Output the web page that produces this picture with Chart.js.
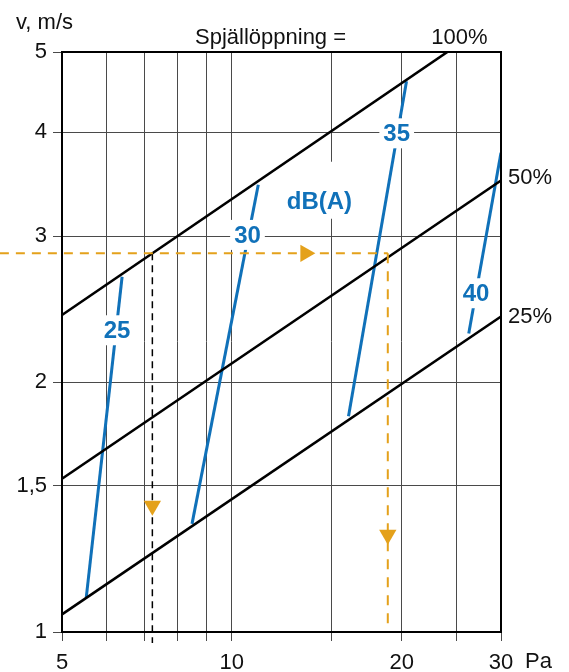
<!DOCTYPE html>
<html>
<head>
<meta charset="utf-8">
<script src="https://cdn.jsdelivr.net/npm/chart.js@4"></script>
<style>
  html, body { margin: 0; padding: 0; background: #fff; }
  #wrap { width: 569px; height: 672px; position: relative; }
</style>
</head>
<body>
<div id="wrap"><canvas id="chart"></canvas></div>
<script>
// Damper diagram: velocity vs pressure drop, log-log
const xTicks = [5, 6, 7, 8, 9, 10, 15, 20, 25, 30];
const xLabelled = [5, 10, 20, 30];
const yTicks = [1, 1.5, 2, 3, 4, 5];
const yLabels = ['1', '1,5', '2', '3', '4', '5'];

// damper opening lines (Pa, m/s)
const openings = ['100%', '50%', '25%'];
const openPa = [[5, 24.1], [5, 30], [5, 30]];
const openV = [[2.41, 5], [1.53, 3.50], [1.05, 2.40]];

// sound level lines dB(A)
const dbLevels = ['25', '30', '35', '40'];
const dbPa = [[5.52, 6.39], [8.5, 11.14], [16.1, 20.4], [26.3, 30]];
const dbV = [[1.10, 2.68], [1.35, 3.46], [1.82, 4.61], [2.29, 3.78]];
const dbLabelPa = [6.26, 10.66, 19.6, 27.1];
const dbLabelV = [2.31, 3.01, 3.99, 2.56];
const unitLabelPa = 14.3;
const unitLabelV = 3.30;

// reading example
const readV = 2.86;
const readPaStart = 3.88;
const readPaEnd = 18.9;
const readPa100 = 7.23;
const readVBottom = 0.97;
const arrowRight = [13.5, 2.86];
const arrowsDown = [[18.9, 1.31], [7.23, 1.42]];

const colors = { black: '#000', blue: '#1071b9', orange: '#e4a11b', grid: '#4a4a4a' };
const font = "'Liberation Sans', Arial, Helvetica, sans-serif";

Chart.defaults.font.family = font;
Chart.defaults.font.size = 22;
Chart.defaults.color = '#111';

const pts = (xs, ys) => xs.map((x, i) => ({ x: x, y: ys[i] }));

const datasets = [];
openings.forEach((name, i) => {
  datasets.push({
    label: name, data: pts(openPa[i], openV[i]),
    borderColor: colors.black, borderWidth: 2.6, pointRadius: 0, order: 2
  });
});
dbLevels.forEach((name, i) => {
  datasets.push({
    label: name + ' dB(A)', data: pts(dbPa[i], dbV[i]),
    borderColor: colors.blue, borderWidth: 3, pointRadius: 0, order: 3
  });
});
datasets.push({
  label: 'read h', data: pts([readPaStart, readPaEnd], [readV, readV]),
  borderColor: colors.orange, borderWidth: 2, borderDash: [9, 7], pointRadius: 0, clip: false, order: 1
});
datasets.push({
  label: 'read v', data: pts([readPaEnd, readPaEnd], [readV, 1]),
  borderColor: colors.orange, borderWidth: 2, borderDash: [10, 8], pointRadius: 0, clip: false, order: 1
});
datasets.push({
  label: 'read 100', data: pts([readPa100, readPa100], [readV, readVBottom]),
  borderColor: colors.black, borderWidth: 1.5, borderDash: [7, 5], pointRadius: 0, clip: false, order: 1
});
datasets.push({
  label: 'arrow r', data: [{ x: arrowRight[0], y: arrowRight[1] }], showLine: false,
  pointStyle: 'triangle', rotation: 90, pointRadius: 10, borderWidth: 0,
  backgroundColor: colors.orange, order: 0
});
datasets.push({
  label: 'arrow d', data: arrowsDown.map(p => ({ x: p[0], y: p[1] })), showLine: false,
  pointStyle: 'triangle', rotation: 180, pointRadius: 10, borderWidth: 0,
  backgroundColor: colors.orange, order: 0
});

const boldFont = 'bold 24px ' + font;

const textPlugin = {
  id: 'texts',
  beforeDatasetsDraw(chart) {
    // white patch behind dB(A) that only hides the grid
    const ctx = chart.ctx;
    const px = chart.scales.x.getPixelForValue(unitLabelPa);
    const py = chart.scales.y.getPixelForValue(unitLabelV);
    ctx.save();
    ctx.font = boldFont;
    const w = ctx.measureText('dB(A)').width;
    ctx.fillStyle = '#fff';
    ctx.fillRect(px - w / 2 - 6, py - 40, w + 12, 57);
    ctx.restore();
  },
  afterDraw(chart) {
    const ctx = chart.ctx, a = chart.chartArea;
    const xs = chart.scales.x, ys = chart.scales.y;
    ctx.save();
    // frame
    ctx.strokeStyle = colors.black;
    ctx.lineWidth = 2;
    ctx.strokeRect(a.left, a.top, a.right - a.left, a.bottom - a.top);

    ctx.textBaseline = 'middle';
    ctx.fillStyle = '#111';
    ctx.font = '22px ' + font;
    ctx.textAlign = 'left';
    ctx.fillText('v, m/s', 16, 23);
    ctx.fillText('Spjällöppning =', 195, 38);
    ctx.fillText('Pa', 525, 662);
    // opening labels at line ends
    ctx.textAlign = 'center';
    ctx.fillText(openings[0], xs.getPixelForValue(openPa[0][1]) + 12, 38);
    ctx.textAlign = 'left';
    ctx.fillText(openings[1], a.right + 7, ys.getPixelForValue(openV[1][1]) - 3);
    ctx.fillText(openings[2], a.right + 7, ys.getPixelForValue(openV[2][1]));

    // dB labels with white boxes
    ctx.font = boldFont;
    ctx.textAlign = 'center';
    dbLevels.forEach((txt, i) => {
      const px = xs.getPixelForValue(dbLabelPa[i]);
      const py = ys.getPixelForValue(dbLabelV[i]);
      const w = ctx.measureText(txt).width;
      ctx.fillStyle = '#fff';
      ctx.fillRect(px - w / 2 - 4, py - 15, w + 8, 30);
      ctx.fillStyle = colors.blue;
      ctx.fillText(txt, px, py + 1);
    });
    ctx.fillStyle = colors.blue;
    ctx.fillText('dB(A)', xs.getPixelForValue(unitLabelPa), ys.getPixelForValue(unitLabelV) + 1);
    ctx.restore();
  }
};

new Chart(document.getElementById('chart'), {
  type: 'scatter',
  data: { datasets: datasets },
  options: {
    responsive: true, maintainAspectRatio: false, animation: false,
    showLine: true,
    layout: { padding: { top: 52, right: 68, left: 0, bottom: 0 } },
    plugins: { legend: { display: false }, tooltip: { enabled: false } },
    scales: {
      x: {
        type: 'logarithmic', min: 5, max: 30,
        afterBuildTicks: s => { s.ticks = xTicks.map(v => ({ value: v })); },
        afterFit: s => { s.height = 40; },
        ticks: {
          autoSkip: false, maxRotation: 0, padding: 9, color: '#111',
          callback: v => xLabelled.includes(v) ? String(v) : ''
        },
        grid: { color: colors.grid, lineWidth: 1, tickLength: 9 },
        border: { color: colors.black, width: 2 }
      },
      y: {
        type: 'logarithmic', min: 1, max: 5,
        afterBuildTicks: s => { s.ticks = yTicks.map(v => ({ value: v })); },
        afterFit: s => { s.width = 62; },
        ticks: {
          autoSkip: false, padding: 6, color: '#111',
          callback: v => yLabels[yTicks.indexOf(v)] || ''
        },
        grid: { color: colors.grid, lineWidth: 1, tickLength: 9 },
        border: { color: colors.black, width: 2 }
      }
    }
  },
  plugins: [textPlugin]
});
</script>
</body>
</html>
